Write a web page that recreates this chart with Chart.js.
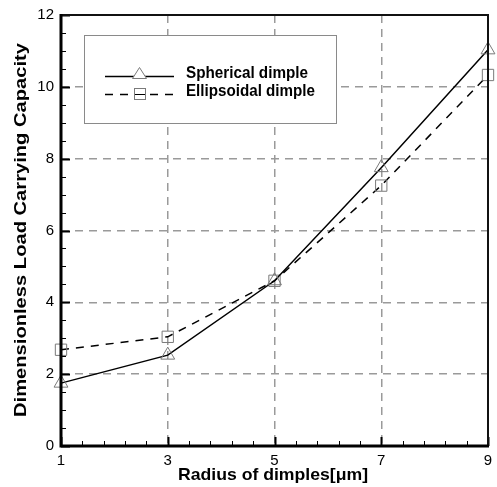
<!DOCTYPE html>
<html>
<head>
<meta charset="utf-8">
<script src="https://cdn.jsdelivr.net/npm/chart.js@4.4.1/dist/chart.umd.min.js"></script>
<style>
  html, body { margin: 0; padding: 0; background: #fff; }
  #wrap { width: 497px; height: 487px; }
</style>
</head>
<body>
<div id="wrap"><canvas id="myChart" width="497" height="487"></canvas></div>
<script>
// data
const radius = [1, 3, 5, 7, 9];
const spherical = [1.75, 2.53, 4.6, 7.75, 11.03];
const ellipsoidal = [2.68, 3.04, 4.6, 7.25, 10.33];
const seriesNames = ['Spherical dimple', 'Ellipsoidal dimple'];
const xTitle = 'Radius of dimples[\u03bcm]';
const yTitle = 'Dimensionless Load Carrying Capacity';

const FONT = '"Liberation Sans", Arial, sans-serif';
const GRID = '#9a9a9a';
const MARK = '#7a7a7a';

const gridColor = (ctx) => {
  const v = ctx.tick ? ctx.tick.value : null;
  const s = ctx.scale;
  if (v === s.min || v === s.max) return 'rgba(0,0,0,0)';
  return GRID;
};

// text stretched to the width it has in the picture
function fitText(ctx, txt, cx, cy, width, align) {
  const w = ctx.measureText(txt).width;
  const k = width / w;
  ctx.save();
  ctx.translate(cx, cy);
  ctx.scale(k, 1);
  ctx.textAlign = align || 'center';
  ctx.fillText(txt, 0, 0);
  ctx.restore();
}

// frame, inward ticks, titles and the boxed legend
const decorations = {
  id: 'decorations',
  afterDatasetsDraw(chart) {
    const { ctx, chartArea: a, scales: { x, y } } = chart;
    ctx.save();

    // minor + major ticks, pointing inward
    ctx.strokeStyle = '#000';
    for (let v = 0; v <= 12.001; v += 0.5) {
      const py = Math.round(y.getPixelForValue(v)) + 0.5;
      const major = Math.abs(v % 2) < 0.001;
      ctx.lineWidth = major ? 2 : 1;
      ctx.beginPath();
      ctx.moveTo(a.left, py);
      ctx.lineTo(a.left + (major ? 9 : 5), py);
      ctx.stroke();
    }
    for (let v = 1; v <= 9.001; v += 0.4) {
      const px = Math.round(x.getPixelForValue(v)) + 0.5;
      const r = (v - 1) % 2;
      const major = r < 0.01 || r > 1.99;
      ctx.lineWidth = major ? 2 : 1;
      ctx.beginPath();
      ctx.moveTo(px, a.bottom);
      ctx.lineTo(px, a.bottom - (major ? 9 : 5));
      ctx.stroke();
    }

    // frame
    ctx.lineWidth = 2;
    ctx.strokeStyle = '#111';
    ctx.beginPath();
    ctx.moveTo(a.left, a.top);
    ctx.lineTo(a.right, a.top);
    ctx.lineTo(a.right, a.bottom);
    ctx.stroke();
    ctx.lineWidth = 3;
    ctx.strokeStyle = '#000';
    ctx.beginPath();
    ctx.moveTo(a.left, a.top - 1);
    ctx.lineTo(a.left, a.bottom);
    ctx.lineTo(a.right + 1, a.bottom);
    ctx.stroke();

    // axis titles
    ctx.fillStyle = '#000';
    ctx.font = 'bold 17px ' + FONT;
    ctx.textBaseline = 'middle';
    fitText(ctx, xTitle, 273, 475, 190);
    ctx.save();
    ctx.translate(21, 230);
    ctx.rotate(-Math.PI / 2);
    fitText(ctx, yTitle, 0, 0, 374);
    ctx.restore();

    // legend box
    const bx = 84.5, by = 35.5, bw = 252, bh = 88;
    ctx.lineWidth = 1;
    ctx.strokeStyle = '#8a8a8a';
    ctx.fillStyle = '#fff';
    ctx.fillRect(bx, by, bw, bh);
    ctx.strokeRect(bx, by, bw, bh);

    const rows = [76, 94];
    const textW = [122, 129];
    chart.data.datasets.forEach((ds, i) => {
      const ly = rows[i] + 0.5;
      ctx.strokeStyle = '#000';
      ctx.lineWidth = 1.5;
      ctx.setLineDash(ds.borderDash || []);
      ctx.beginPath();
      ctx.moveTo(105, ly);
      ctx.lineTo(174, ly);
      ctx.stroke();
      ctx.setLineDash([]);
      ctx.fillStyle = '#fff';
      ctx.strokeStyle = MARK;
      ctx.lineWidth = 1;
      if (ds.pointStyle === 'triangle') {
        ctx.beginPath();
        ctx.moveTo(139.5, ly - 9);
        ctx.lineTo(146.5, ly + 2);
        ctx.lineTo(132.5, ly + 2);
        ctx.closePath();
        ctx.fill();
        ctx.stroke();
      } else {
        ctx.fillRect(134.5, ly - 6, 11, 11);
        ctx.strokeRect(134.5, ly - 6, 11, 11);
        ctx.strokeStyle = '#000';
        ctx.beginPath();
        ctx.moveTo(135, ly);
        ctx.lineTo(145, ly);
        ctx.stroke();
      }
      ctx.fillStyle = '#000';
      ctx.font = 'bold 16px ' + FONT;
      ctx.textBaseline = 'middle';
      fitText(ctx, ds.label, 186, rows[i] - 2, textW[i], 'left');
    });

    ctx.restore();
  }
};

const ctx = document.getElementById('myChart').getContext('2d');
new Chart(ctx, {
  type: 'line',
  data: {
    datasets: [
      {
        label: seriesNames[0],
        data: radius.map((r, i) => ({ x: r, y: spherical[i] })),
        borderColor: '#000',
        borderWidth: 1.5,
        pointStyle: 'triangle',
        pointRadius: 8,
        pointBorderColor: MARK,
        pointBorderWidth: 1,
        pointBackgroundColor: 'rgba(0,0,0,0)',
        tension: 0
      },
      {
        label: seriesNames[1],
        data: radius.map((r, i) => ({ x: r, y: ellipsoidal[i] })),
        borderColor: '#000',
        borderWidth: 1.5,
        borderDash: [8, 7],
        pointStyle: 'rect',
        pointRadius: 8,
        pointBorderColor: MARK,
        pointBorderWidth: 1,
        pointBackgroundColor: 'rgba(0,0,0,0)',
        tension: 0
      }
    ]
  },
  options: {
    responsive: false,
    animation: false,
    clip: false,
    layout: { padding: { top: 15, right: 6, left: 0, bottom: 0 } },
    plugins: {
      legend: { display: false },
      tooltip: { enabled: false }
    },
    scales: {
      x: {
        type: 'linear',
        min: 1,
        max: 9,
        afterFit: (s) => { s.height = 41; s.paddingLeft = 0; s.paddingRight = 0; },
        ticks: {
          stepSize: 2,
          padding: 6,
          color: '#000',
          font: { family: FONT, size: 15 },
          maxRotation: 0
        },
        grid: {
          color: gridColor,
          lineWidth: 1.5,
          drawTicks: false
        },
        border: { display: false, dash: [8, 6] }
      },
      y: {
        min: 0,
        max: 12,
        afterFit: (s) => { s.width = 61; s.paddingTop = 0; s.paddingBottom = 0; },
        ticks: {
          stepSize: 2,
          padding: 7,
          color: '#000',
          font: { family: FONT, size: 15 }
        },
        grid: {
          color: gridColor,
          lineWidth: 1.5,
          drawTicks: false
        },
        border: { display: false, dash: [8, 6] }
      }
    }
  },
  plugins: [decorations]
});
</script>
</body>
</html>
